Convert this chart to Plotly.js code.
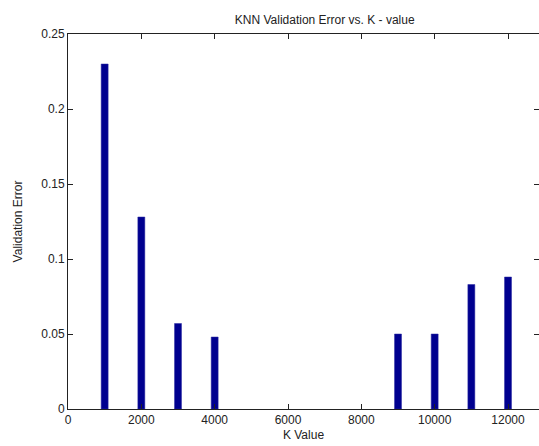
<!DOCTYPE html>
<html>
<head>
<meta charset="utf-8">
<script src="https://cdn.plot.ly/plotly-3.0.1.min.js"></script>
<style>
html,body{margin:0;padding:0;overflow:hidden;background:#fff;}
#chart{width:539px;height:446px;}
</style>
</head>
<body>
<div id="chart"></div>
<script>
const kValues = [1000, 2000, 3000, 4000, 9000, 10000, 11000, 12000];
const validationError = [0.230, 0.128, 0.057, 0.048, 0.050, 0.050, 0.083, 0.088];
const xTicks = [0, 2000, 4000, 6000, 8000, 10000, 12000];
const yTicks = [0, 0.05, 0.1, 0.15, 0.2, 0.25];
const yTickLabels = ['0', '0.05', '0.1', '0.15', '0.2', '0.25'];

const trace = {
  type: 'bar',
  x: kValues,
  y: validationError,
  width: 190,
  marker: {color: 'rgb(0,0,143)', line: {color: 'rgb(40,40,160)', width: 0.5}},
  hoverinfo: 'x+y'
};

const axisFont = {family: 'Liberation Sans, Arial, sans-serif', size: 12, color: '#222'};

const layout = {
  width: 539,
  height: 446,
  margin: {l: 68, r: 0, t: 34, b: 37},
  paper_bgcolor: '#fff',
  plot_bgcolor: '#fff',
  showlegend: false,
  font: axisFont,
  title: {text: 'KNN Validation Error vs. K - value', font: {family: 'Liberation Sans, Arial, sans-serif', size: 12, color: '#222'}, x: 0.545, xanchor: 'center', y: 0.955, yanchor: 'middle', xref: 'paper'},
  xaxis: {
    range: [0, 12845],
    tickvals: xTicks,
    ticktext: xTicks.map(String),
    ticks: 'inside', ticklen: 5, tickcolor: '#222', tickwidth: 1,
    showline: true, linecolor: '#222', linewidth: 1, mirror: 'ticks',
    showgrid: false, zeroline: false,
    tickfont: axisFont,
    title: {text: 'K Value', font: axisFont, standoff: 4}
  },
  yaxis: {
    range: [0, 0.25],
    tickvals: yTicks,
    ticktext: yTickLabels,
    ticks: 'inside', ticklen: 5, tickcolor: '#222', tickwidth: 1,
    showline: true, linecolor: '#222', linewidth: 1, mirror: false,
    showgrid: false, zeroline: false,
    tickfont: axisFont,
    title: {text: 'Validation Error', font: axisFont, standoff: 16}
  },
  yaxis2: {
    overlaying: 'y', side: 'right',
    range: [0, 0.25],
    tickvals: yTicks,
    ticks: 'inside', ticklen: 5, tickcolor: '#222', tickwidth: 1,
    showline: false, showticklabels: false, showgrid: false, zeroline: false
  }
};

const dummy = {type: 'scatter', x: [], y: [], yaxis: 'y2', hoverinfo: 'skip'};

Plotly.newPlot('chart', [trace, dummy], layout, {displayModeBar: false, staticPlot: true});
</script>
</body>
</html>
